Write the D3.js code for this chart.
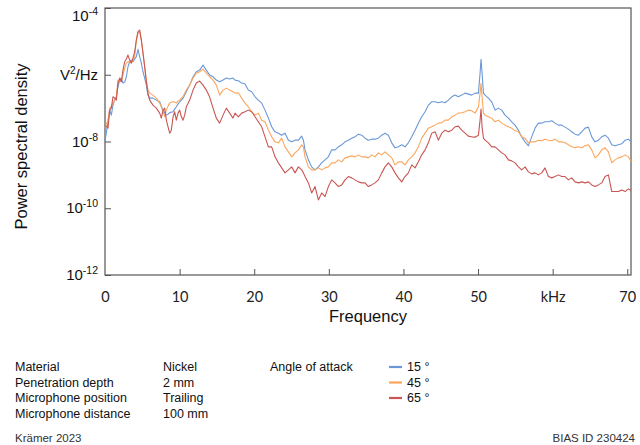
<!DOCTYPE html>
<html>
<head>
<meta charset="utf-8">
<script src="https://cdn.jsdelivr.net/npm/d3@7"></script>
<style>
  html, body { margin: 0; padding: 0; background: #fff; }
  svg { display: block; font-family: "Liberation Sans", Arial, sans-serif; }
</style>
</head>
<body>
<svg id="chart" width="640" height="445"></svg>
<script>
// Frequency grid in kHz (shared by all three spectra)
const freqKHz = [
  0,0.40,0.63,0.85,1.07,1.30,1.52,1.74,1.97,2.19,
  2.41,2.64,2.86,3.08,3.31,3.53,3.75,3.98,4.20,4.42,
  4.65,4.87,5.09,5.32,5.54,5.76,5.99,6.43,6.88,7.33,
  7.55,7.78,8.00,8.22,8.45,8.67,8.89,9.12,9.34,9.56,
  9.79,10.01,10.23,10.46,10.68,10.90,11.35,11.80,12.24,12.69,
  13.14,13.58,14.03,14.48,14.92,15.37,15.82,16.27,16.71,17.16,
  17.43,17.87,18.32,18.77,19.21,19.66,20.11,20.55,21.00,21.45,
  21.90,22.34,22.79,23.24,23.68,24.13,24.58,25.02,25.47,25.92,
  26.36,26.59,26.81,27.26,27.70,28.15,28.60,29.04,29.49,29.94,
  30.38,30.83,31.28,31.73,32.17,32.62,33.07,33.51,33.96,34.41,
  34.85,35.30,35.75,36.19,36.64,37.09,37.53,37.98,38.43,38.87,
  39.32,39.77,40.21,40.66,41.11,41.56,42.00,42.45,42.90,43.34,
  43.79,44.24,44.68,45.13,45.58,46.02,46.47,46.92,47.36,47.81,
  48.26,48.70,49.15,49.60,50.05,50.27,50.40,50.54,50.72,50.94,
  51.39,51.83,
  52.28,52.73,53.17,53.62,54.07,54.51,54.96,55.41,55.85,56.30,
  56.75,57.19,57.64,58.09,58.53,58.98,59.43,59.88,60.32,60.77,
  61.22,61.66,62.11,62.56,63.00,63.45,63.90,64.34,64.79,65.24,
  65.68,66.13,66.58,67.02,67.47,67.92,68.37,68.81,69.26,69.71,
  70.15,70.51
];

// Power spectral density, log10 of V^2/Hz, angle of attack 15°
const log10Psd15 = [
  -7.99,-7.42,-7.06,-7.21,-6.91,-6.76,-6.66,-6.36,-6.16,-6.10,
  -6.25,-6.22,-6.06,-5.76,-5.61,-5.56,-5.61,-5.53,-5.46,-5.24,
  -5.46,-5.65,-5.91,-6.10,-6.31,-6.61,-6.70,-6.70,-6.76,-6.81,
  -6.94,-7.06,-7.15,-7.21,-7.18,-7.14,-7.12,-7.11,-7.03,-6.96,
  -6.88,-6.81,-6.76,-6.70,-6.61,-6.51,-6.31,-6.06,-5.91,-5.86,
  -5.71,-5.86,-6.01,-6.06,-6.16,-6.21,-6.16,-6.10,-6.13,-6.10,
  -6.16,-6.18,-6.25,-6.28,-6.46,-6.51,-6.66,-6.76,-6.85,-7.06,
  -7.30,-7.56,-7.71,-7.75,-7.81,-7.75,-7.96,-8.01,-7.96,-7.96,
  -7.84,-7.96,-8.25,-8.55,-8.76,-8.85,-8.76,-8.64,-8.55,-8.46,
  -8.25,-8.25,-8.16,-8.10,-8.01,-7.96,-7.90,-7.86,-7.78,-7.81,
  -7.90,-7.96,-7.93,-7.93,-7.90,-7.81,-7.75,-7.81,-8.04,-8.19,
  -8.16,-8.10,-8.16,-8.04,-7.86,-7.66,-7.45,-7.26,-7.11,-6.91,
  -6.81,-6.81,-6.84,-6.81,-6.84,-6.76,-6.66,-6.61,-6.66,-6.61,
  -6.55,-6.58,-6.61,-6.55,-6.55,-5.95,-5.54,-5.95,-6.55,-6.61,
  -6.70,-6.81,
  -7.06,-7.00,-7.06,-7.21,-7.30,-7.41,-7.51,-7.66,-7.86,-8.01,
  -8.13,-7.86,-7.60,-7.45,-7.45,-7.41,-7.41,-7.38,-7.45,-7.51,
  -7.51,-7.57,-7.63,-7.71,-7.78,-7.81,-7.71,-7.60,-7.57,-7.86,
  -8.01,-7.96,-7.86,-7.81,-7.90,-8.10,-8.13,-8.10,-8.07,-7.96,
  -7.93,-8.01
];

// Angle of attack 45°
const log10Psd45 = [
  -7.57,-7.36,-7.00,-6.94,-6.85,-6.76,-6.66,-6.16,-6.19,-6.21,
  -6.01,-5.80,-5.65,-5.61,-5.62,-5.65,-5.56,-5.46,-4.96,-4.75,
  -4.71,-4.96,-5.35,-5.76,-6.16,-6.46,-6.55,-6.61,-6.70,-6.85,
  -6.97,-7.11,-7.26,-7.06,-6.94,-6.85,-6.82,-6.81,-6.82,-6.85,
  -6.79,-6.76,-6.70,-6.66,-6.55,-6.46,-6.31,-6.10,-5.95,-5.91,
  -5.83,-5.95,-6.06,-6.16,-6.31,-6.61,-6.46,-6.40,-6.46,-6.51,
  -6.55,-6.54,-6.70,-6.85,-6.96,-7.11,-7.21,-7.15,-7.36,-7.41,
  -7.66,-7.86,-8.01,-8.04,-7.90,-8.16,-8.31,-8.46,-8.34,-8.25,
  -8.10,-8.16,-8.46,-8.76,-8.85,-8.85,-8.79,-8.85,-8.79,-8.76,
  -8.64,-8.64,-8.55,-8.61,-8.49,-8.46,-8.43,-8.46,-8.40,-8.46,
  -8.46,-8.49,-8.40,-8.46,-8.34,-8.40,-8.31,-8.40,-8.49,-8.70,
  -8.61,-8.61,-8.70,-8.55,-8.46,-8.34,-8.16,-7.90,-7.75,-7.60,
  -7.56,-7.51,-7.45,-7.44,-7.36,-7.36,-7.26,-7.21,-7.15,-7.14,
  -7.11,-7.06,-7.08,-7.15,-6.96,-6.55,-6.26,-6.66,-7.15,-7.21,
  -7.26,-7.30,
  -7.41,-7.36,-7.45,-7.51,-7.56,-7.60,-7.68,-7.71,-7.86,-7.90,
  -8.04,-8.01,-8.01,-7.96,-7.98,-7.93,-7.96,-7.98,-7.93,-8.01,
  -8.01,-8.04,-8.10,-8.16,-8.19,-8.16,-8.19,-8.13,-8.10,-8.25,
  -8.49,-8.40,-8.25,-8.19,-8.31,-8.64,-8.55,-8.49,-8.46,-8.40,
  -8.46,-8.61
];

// Angle of attack 65°
const log10Psd65 = [
  -7.51,-7.60,-7.06,-7.00,-6.66,-6.70,-6.76,-6.25,-6.10,-6.21,
  -5.86,-5.61,-5.53,-5.41,-5.56,-5.65,-5.50,-5.31,-4.96,-4.71,
  -4.66,-4.96,-5.35,-5.76,-6.21,-6.56,-6.76,-6.91,-7.00,-7.15,
  -7.30,-7.06,-7.00,-7.36,-7.56,-7.75,-7.66,-7.26,-7.11,-7.36,
  -7.15,-7.06,-7.26,-7.36,-7.21,-6.96,-6.76,-6.46,-6.25,-6.19,
  -6.31,-6.46,-6.67,-7.00,-7.30,-7.45,-7.21,-7.00,-7.15,-7.30,
  -7.15,-7.26,-7.15,-7.11,-7.06,-7.11,-7.26,-7.41,-7.56,-7.86,
  -8.16,-8.16,-8.46,-8.64,-8.79,-8.94,-8.85,-8.76,-8.94,-8.76,
  -8.85,-8.94,-9.05,-9.24,-9.54,-9.35,-9.75,-9.54,-9.65,-9.35,
  -9.15,-9.24,-9.35,-9.30,-9.15,-9.05,-9.09,-9.15,-9.21,-9.24,
  -9.24,-9.35,-9.30,-9.24,-9.15,-8.94,-8.76,-8.64,-8.76,-8.94,
  -9.09,-9.21,-9.05,-8.94,-8.70,-8.79,-8.61,-8.40,-8.25,-8.04,
  -7.75,-7.71,-7.96,-7.75,-7.66,-7.71,-7.66,-7.56,-7.54,-7.66,
  -7.75,-7.84,-7.86,-7.87,-7.81,-7.36,-7.03,-7.56,-7.90,-7.96,
  -8.04,-8.16,
  -8.16,-8.25,-8.34,-8.40,-8.55,-8.58,-8.64,-8.76,-8.85,-8.76,
  -8.91,-8.97,-8.94,-9.00,-8.94,-8.79,-9.05,-9.09,-9.05,-9.00,
  -9.05,-9.05,-9.15,-9.09,-9.21,-9.24,-9.21,-9.24,-9.21,-9.30,
  -9.35,-9.30,-9.24,-9.05,-9.00,-9.50,-9.50,-9.50,-9.45,-9.50,
  -9.42,-9.47
];

const seriesLabels = ["15 °", "45 °", "65 °"];
const seriesColors = ["#6a98d8", "#fba65c", "#c95653"];

// Axis ticks
const xTickValues = [0, 10, 20, 30, 40, 50, 60, 70];
const xTickLabels = ["0", "10", "20", "30", "40", "50", "kHz", "70"];
const yTickExponents = [-4, -6, -8, -10, -12];
const yUnitLabel = "V²/Hz";

// Measurement details
const infoKeys = ["Material", "Penetration depth", "Microphone position", "Microphone distance"];
const infoValues = ["Nickel", "2 mm", "Trailing", "100 mm"];
const legendTitle = "Angle of attack";
const sourceText = "Krämer 2023";
const idText = "BIAS ID 230424";

const svg = d3.select("#chart");
const plot = { left: 105, right: 631, top: 8, bottom: 275 };

const x = d3.scaleLinear().domain([0, 70.5]).range([plot.left, plot.right]);
const y = d3.scaleLog().domain([1e-12, 1e-4]).range([plot.bottom, plot.top]);

const axisColor = "#555";

// Frame around the plot area
svg.append("rect")
  .attr("x", plot.left).attr("y", plot.top)
  .attr("width", plot.right - plot.left).attr("height", plot.bottom - plot.top)
  .attr("fill", "none").attr("stroke", axisColor).attr("stroke-width", 1.2);

// X axis: inward ticks, labels below
const xAxis = d3.axisBottom(x)
  .tickValues(xTickValues)
  .tickFormat((d, i) => xTickLabels[i])
  .tickSizeInner(-6).tickSizeOuter(0).tickPadding(17);
const gx = svg.append("g").attr("transform", `translate(0,${plot.bottom})`).call(xAxis);
gx.select(".domain").remove();
gx.selectAll(".tick line").attr("stroke", axisColor).filter(d => d === 0).remove();
gx.selectAll(".tick text")
  .attr("fill", "#222").attr("font-size", 14.5)
  .attr("font-family", "Lato, 'Open Sans', sans-serif");

// Y axis: inward ticks, power-of-ten labels
const yAxis = d3.axisLeft(y)
  .tickValues(yTickExponents.map(e => Math.pow(10, e)))
  .tickFormat("")
  .tickSizeInner(-6).tickSizeOuter(0);
const gy = svg.append("g").attr("transform", `translate(${plot.left},0)`).call(yAxis);
gy.select(".domain").remove();
gy.selectAll(".tick line").attr("stroke", axisColor);

const yLabels = svg.append("g").attr("fill", "#111");
yTickExponents.forEach(e => {
  const yy = y(Math.pow(10, e)) + (e === -4 ? 13 : 5);
  const t = yLabels.append("text")
    .attr("x", 98).attr("y", yy)
    .attr("text-anchor", "end").attr("font-size", 15);
  if (e === -6) {
    t.append("tspan").text("V");
    t.append("tspan").attr("dy", -6).attr("font-size", 10).text("2");
    t.append("tspan").attr("dy", 6).text("/Hz");
  } else {
    t.append("tspan").text("10");
    t.append("tspan").attr("dy", -6).attr("font-size", 10.5).text(String(e));
  }
});

// Axis titles
svg.append("text")
  .attr("transform", `translate(27,${(plot.top + plot.bottom) / 2 + 5}) rotate(-90)`)
  .attr("text-anchor", "middle").attr("font-size", 16.5).attr("fill", "#111")
  .text("Power spectral density");
svg.append("text")
  .attr("x", (plot.left + plot.right) / 2).attr("y", 322)
  .attr("text-anchor", "middle").attr("font-size", 16.5).attr("fill", "#111")
  .text("Frequency");

// Spectra
const seriesValues = [log10Psd15, log10Psd45, log10Psd65];
const line = d3.line()
  .x(d => x(d[0]))
  .y(d => y(Math.pow(10, d[1])));

seriesValues.forEach((vals, i) => {
  const pts = freqKHz.map((f, j) => [f, vals[j]]);
  svg.append("path")
    .datum(pts)
    .attr("d", line)
    .attr("fill", "none")
    .attr("stroke", seriesColors[i])
    .attr("stroke-width", 1.1)
    .attr("stroke-linejoin", "round");
});

// Measurement details block
const info = svg.append("g").attr("font-size", 12.5).attr("fill", "#111");
const rowY = d3.scaleLinear().domain([0, 1]).range([371, 386.5]);
infoKeys.forEach((k, i) => {
  info.append("text").attr("x", 15).attr("y", rowY(i)).text(k);
  info.append("text").attr("x", 163).attr("y", rowY(i)).text(infoValues[i]);
});
info.append("text").attr("x", 270).attr("y", rowY(0)).text(legendTitle);

seriesLabels.forEach((lab, i) => {
  info.append("line")
    .attr("x1", 389).attr("x2", 402)
    .attr("y1", rowY(i) - 4).attr("y2", rowY(i) - 4)
    .attr("stroke", seriesColors[i]).attr("stroke-width", 2.2);
  info.append("text").attr("x", 407).attr("y", rowY(i)).text(lab);
});

svg.append("text").attr("x", 15).attr("y", 442)
  .attr("font-size", 11.5).attr("fill", "#333").text(sourceText);
svg.append("text").attr("x", 635).attr("y", 442).attr("text-anchor", "end")
  .attr("font-size", 11.5).attr("fill", "#333").text(idText);
</script>
</body>
</html>
